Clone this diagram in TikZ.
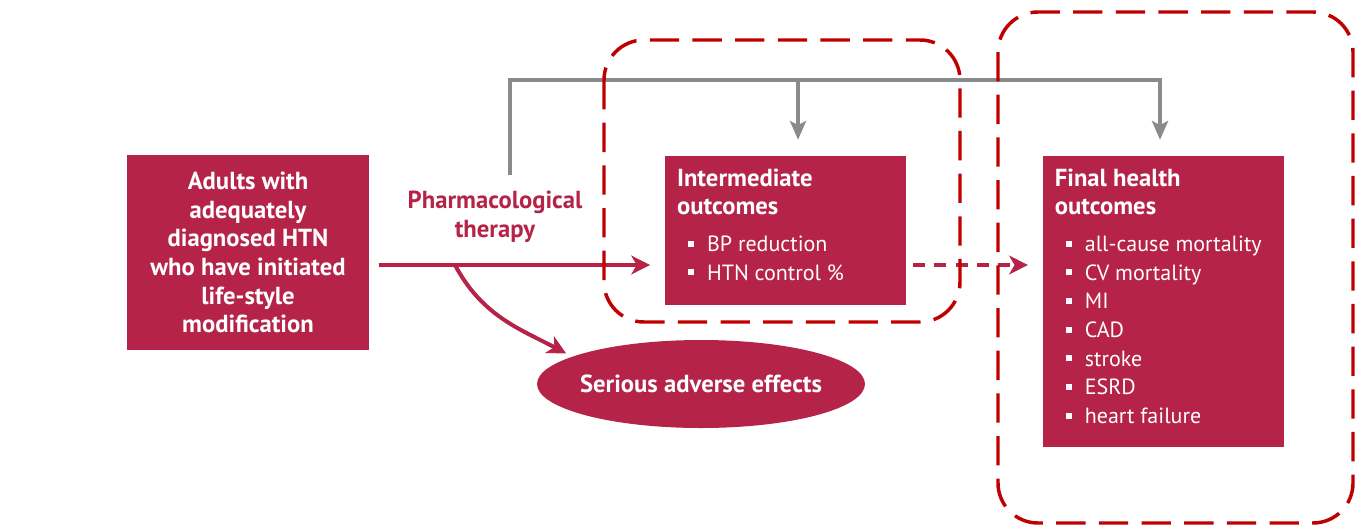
\documentclass[tikz,border=0pt]{standalone}
\usepackage{fontspec}
\setmainfont{PT Sans}
\usetikzlibrary{positioning, arrows.meta, shapes.geometric}
\definecolor{crimson}{RGB}{181,35,72}
\definecolor{framered}{RGB}{192,0,0}
\definecolor{flowgray}{RGB}{138,138,138}
\newcommand{\sqbul}{\hspace*{8pt}\rule[0.22em]{0.28em}{0.28em}\hspace{0.6em}}
\newcommand{\boldhead}{\bfseries\fontsize{18.5}{21.5}\selectfont}

\begin{document}
\begin{tikzpicture}[x=0.75pt, y=-0.75pt,
	outbox/.style = {fill=crimson, inner sep=0pt},
	boxtext/.style = {text=white, font=\fontsize{16.5}{21.5}\selectfont, align=left, anchor=north west, inner sep=0pt},
	redarrow/.style = {draw=crimson, line width=3pt, -{Stealth[length=14pt, width=14pt, inset=4pt]}},
	grayarrow/.style = {draw=flowgray, line width=3pt, -{Stealth[length=14pt, width=12pt, inset=3pt]}},
	dashframe/.style = {draw=framered, line width=2.6pt, dash pattern=on 22pt off 10pt, rounded corners=30pt}]
	\useasboundingbox (0,0) rectangle (1365,526);
	\fill[white] (0,0) rectangle (1365,526);
	\node[outbox, minimum width=181.5pt, minimum height=146.25pt, text=white, align=center, font=\boldhead] (adults) at (248,252.5) {Adults with\\adequately\\diagnosed HTN\\who have initiated\\life-style\\modification};
	\node[text=crimson, align=center, font=\boldhead] (pharm) at (495,217) {Pharmacological\\therapy};
	\node[outbox, minimum width=180.75pt, minimum height=111.75pt] (inter) at (785.5,230.5) {};
	\node[boxtext] (intertext) at ([xshift=9pt, yshift=-9.5pt]inter.north west) {{\boldhead Intermediate}\\{\boldhead outcomes}\\[6pt]\sqbul BP reduction\\\sqbul HTN control \%};
	\node[outbox, minimum width=181pt, minimum height=218.25pt] (final) at (1163.5,301.5) {};
	\node[boxtext] (finaltext) at ([xshift=9pt, yshift=-9.5pt]final.north west) {{\boldhead Final health}\\{\boldhead outcomes}\\[6pt]\sqbul all-cause mortality\\\sqbul CV mortality\\\sqbul MI\\\sqbul CAD\\\sqbul stroke\\\sqbul ESRD\\\sqbul heart failure};
	\node[ellipse, fill=crimson, inner xsep=-4pt, inner ysep=0pt, minimum width=246pt, minimum height=66pt, text=white, font=\boldhead] (adverse) at (701,384) {Serious adverse effects};
	% flow
	\coordinate (branch) at (455,265);
	\coordinate (gstart) at (510,175);
	\coordinate (gtop) at (510,80);
	\draw[redarrow, shorten <=7pt, shorten >=11pt] (adults.east |- branch) -- (inter.west |- branch);
	\draw[redarrow, shorten >=5pt] (branch) to[out=-62, in=152] (adverse.168);
	\draw[redarrow, dash pattern=on 9pt off 7pt, shorten <=5pt, shorten >=11pt] (inter.east |- branch) -- (final.west |- branch);
	\draw[grayarrow] (gstart) -- (gtop) -| ([xshift=-2.6pt, yshift=12pt]final.north);
	\draw[grayarrow] ([xshift=9.4pt]inter.north |- gtop) -- ([xshift=9.4pt, yshift=12pt]inter.north);
	% frames
	\draw[dashframe] (604,40) rectangle (960,322);
	\draw[dashframe] (998,12) rectangle (1353,523);
\end{tikzpicture}
\end{document}
